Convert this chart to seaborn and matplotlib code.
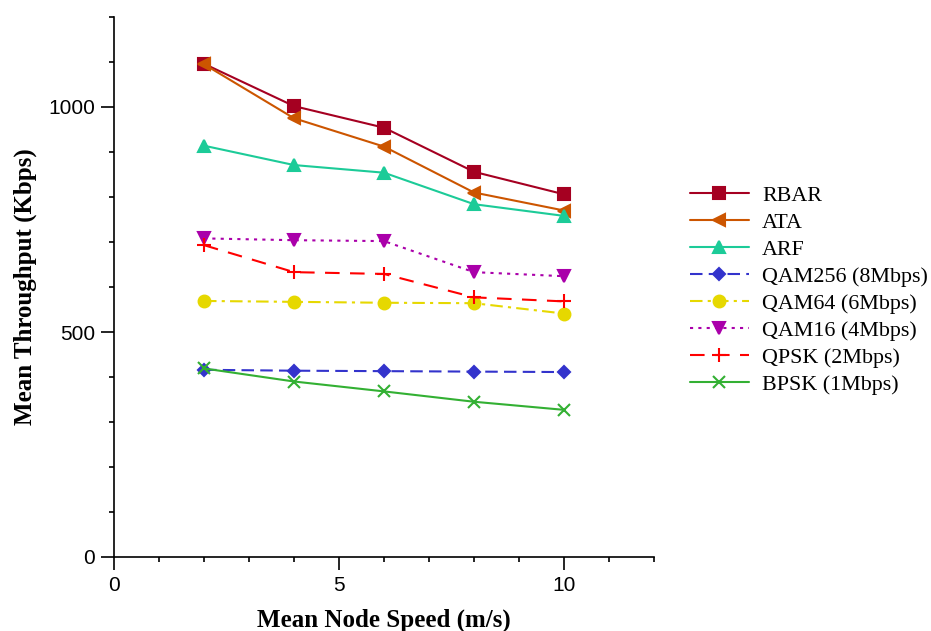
import matplotlib
matplotlib.use("Agg")
import matplotlib.pyplot as plt
import seaborn as sns
from matplotlib.ticker import MultipleLocator

speeds = [2, 4, 6, 8, 10]
series_names = ["RBAR", "ATA", "ARF", "QAM256 (8Mbps)", "QAM64 (6Mbps)",
                "QAM16 (4Mbps)", "QPSK (2Mbps)", "BPSK (1Mbps)"]
rbar = [1096, 1002, 954, 856, 806]
ata = [1095, 975, 912, 810, 770]
arf = [914, 871, 854, 784, 758]
qam256 = [416, 414, 413, 412, 411]
qam64 = [569, 567, 565, 564, 541]
qam16 = [708, 704, 702, 633, 624]
qpsk = [693, 633, 629, 577, 568]
bpsk = [419, 390, 368, 345, 327]
values = [rbar, ata, arf, qam256, qam64, qam16, qpsk, bpsk]

colors = ["#a50021", "#cc5500", "#1ccb98", "#3333cc", "#e6d800",
          "#aa00aa", "#ff0000", "#33b033"]
markers = ["s", "<", "^", "D", "o", "v", "+", "x"]
dashes = [None, None, None, (6, 3), (6, 2.5, 1.5, 2.5), (1.5, 2.5), (7, 5), None]
msizes = [8, 8, 8, 6.5, 8.5, 8, 10, 9]

sns.set_style("ticks")
plt.rcParams.update({"text.color": "black", "axes.labelcolor": "black",
                     "xtick.color": "black", "ytick.color": "black",
                     "axes.edgecolor": "black"})
fig = plt.figure(figsize=(9.31, 6.31), dpi=100)
ax = fig.add_axes([114/931, 74/631, 540/931, 540/631])

for name, vals, c, m, d, ms in zip(series_names, values, colors, markers, dashes, msizes):
    sns.lineplot(x=speeds, y=vals, color=c, marker=m, markersize=ms,
                 markeredgecolor=c, markeredgewidth=1.5, linewidth=1.5,
                 label=name, ax=ax)
    line = ax.get_lines()[-1]
    if d is not None:
        line.set_dashes(d)

ax.set_xlim(0, 12)
ax.set_ylim(0, 1200)
ax.xaxis.set_major_locator(MultipleLocator(5))
ax.xaxis.set_minor_locator(MultipleLocator(1))
ax.yaxis.set_major_locator(MultipleLocator(500))
ax.yaxis.set_minor_locator(MultipleLocator(100))
ax.tick_params(which="major", direction="out", length=9.5, width=1.2,
               labelsize=15, color="black", labelcolor="black", pad=4)
ax.tick_params(which="minor", direction="out", length=3.5, width=1.2, color="black")
for lab in ax.get_xticklabels() + ax.get_yticklabels():
    lab.set_family("Liberation Sans")
for sp in ["top", "right"]:
    ax.spines[sp].set_visible(False)
for sp in ["left", "bottom"]:
    ax.spines[sp].set_linewidth(1.2)
    ax.spines[sp].set_color("black")

ax.set_xlabel("Mean Node Speed (m/s)", family="Liberation Serif",
              fontweight="bold", fontsize=18, labelpad=10, color="black")
ax.set_ylabel("Mean Throughput (Kbps)", family="Liberation Serif",
              fontweight="bold", fontsize=18, labelpad=8, color="black")

handles, labels = ax.get_legend_handles_labels()
leg = ax.legend(handles, labels, loc="upper left",
                bbox_to_anchor=(681/931, 1 - 177/631),
                bbox_transform=fig.transFigure, frameon=False,
                prop={"family": "Liberation Serif", "size": 15.8},
                handlelength=2.7, labelspacing=0.3, handletextpad=0.6,
                borderaxespad=0)
for t in leg.get_texts():
    t.set_color("black")

fig.savefig("out.png", dpi=100)
